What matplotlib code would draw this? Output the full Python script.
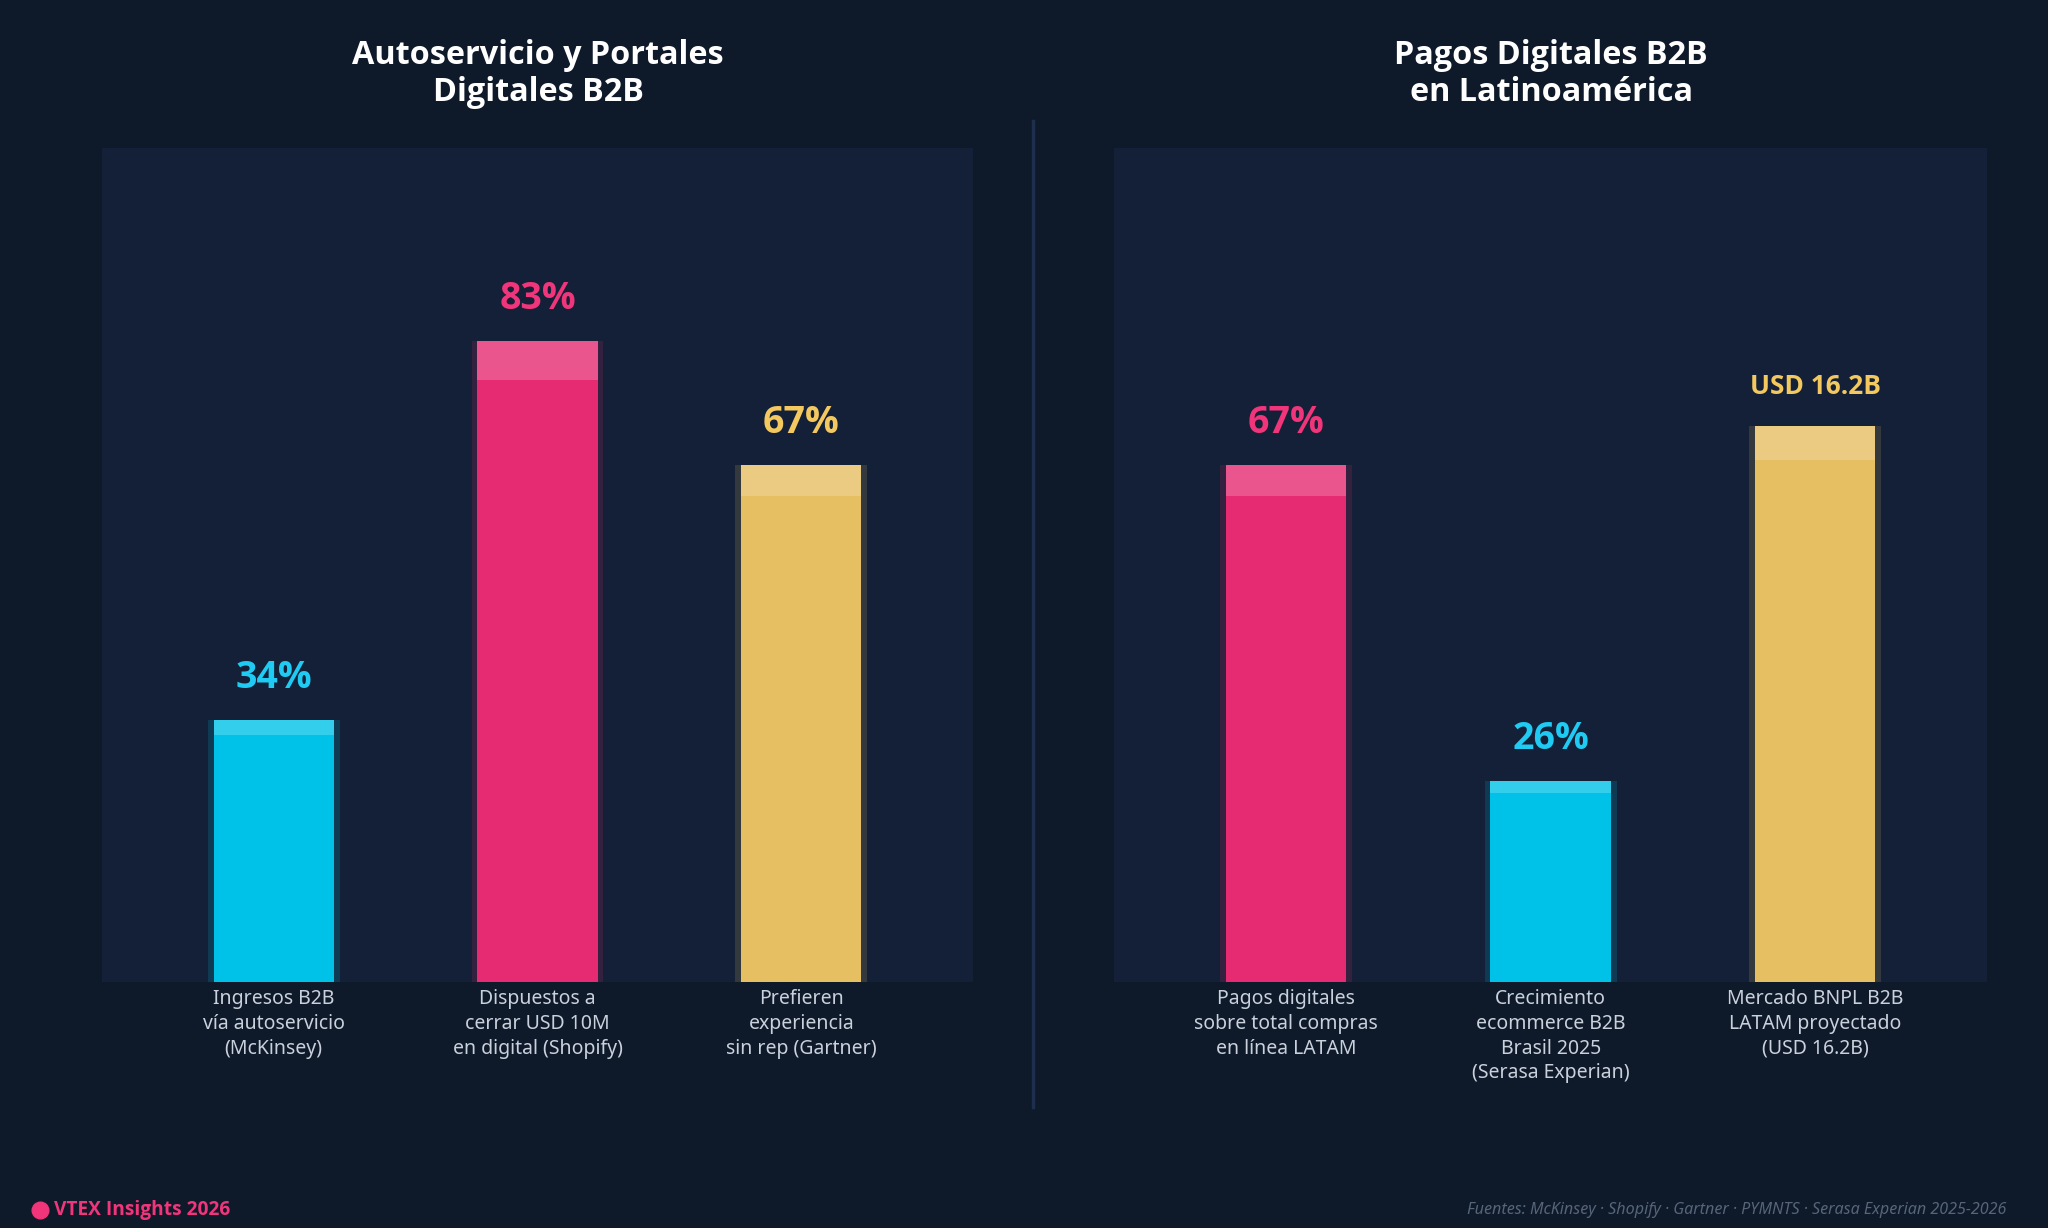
import matplotlib
matplotlib.use("Agg")
import matplotlib.pyplot as plt
from matplotlib.lines import Line2D
from matplotlib import font_manager as fm

plt.rcParams['font.family'] = ['Noto Sans', 'DejaVu Sans']

# pick a family that really has a bold face
BOLD_FAMILY = 'Noto Sans'
for fam in ['Noto Sans', 'Open Sans', 'Lato', 'DejaVu Sans']:
    try:
        p = fm.findfont(fm.FontProperties(family=fam, weight='bold'), fallback_to_default=False)
        f = fm.get_font(p)
        if 'bold' in f.style_name.lower() or 'bold' in p.lower():
            BOLD_FAMILY = fam
            break
    except Exception:
        pass

# ---- data ----
left_title = "Autoservicio y Portales\nDigitales B2B"
left_categories = ["Ingresos B2B\nvía autoservicio\n(McKinsey)",
                   "Dispuestos a\ncerrar USD 10M\nen digital (Shopify)",
                   "Prefieren\nexperiencia\nsin rep (Gartner)"]
left_values = [34, 83, 67]
left_labels = ["34%", "83%", "67%"]

right_title = "Pagos Digitales B2B\nen Latinoamérica"
right_categories = ["Pagos digitales\nsobre total compras\nen línea LATAM",
                    "Crecimiento\necommerce B2B\nBrasil 2025\n(Serasa Experian)",
                    "Mercado BNPL B2B\nLATAM proyectado\n(USD 16.2B)"]
right_values = [67, 26, 72]
right_labels = ["67%", "26%", "USD 16.2B"]

BG = "#0e1929"
PANEL = "#132037"
CYAN = "#00c2e8"
PINK = "#e62b72"
GOLD = "#e5bf62"
CYAN_T = "#1fcbf2"
PINK_T = "#f0357a"
GOLD_T = "#f3c85f"
left_colors = [CYAN, PINK, GOLD]
left_tcolors = [CYAN_T, PINK_T, GOLD_T]
right_colors = [PINK, CYAN, GOLD]
right_tcolors = [PINK_T, CYAN_T, GOLD_T]
label_sizes_left = [27, 27, 27]
label_sizes_right = [27, 27, 19]

fig = plt.figure(figsize=(20.48, 12.28), dpi=100, facecolor=BG)
BF = [BOLD_FAMILY, 'DejaVu Sans']

def panel(rect, cats, vals, labels, colors, tcolors, sizes, title, tx):
    ax = fig.add_axes(rect)
    ax.set_facecolor(PANEL)
    x = list(range(len(vals)))
    ax.bar(x, vals, width=0.5, color=colors, alpha=0.16, zorder=1)
    ax.bar(x, vals, width=0.455, color=colors, zorder=2)
    tops = [v * 0.06 for v in vals]
    bots = [v * 0.94 for v in vals]
    ax.bar(x, tops, bottom=bots, width=0.455, color="white", alpha=0.2, zorder=3)
    for xi, v, lab, c, s in zip(x, vals, labels, tcolors, sizes):
        ax.annotate(lab, (xi, v), xytext=(0, 23), textcoords="offset points",
                    ha="center", va="baseline", color=c, fontsize=s,
                    fontweight="bold", family=BF)
    ax.set_xlim(-0.65, 2.65)
    ax.set_ylim(0, 108)
    ax.set_yticks([])
    ax.set_xticks(x)
    ax.set_xticklabels(cats, color="#c9d1dc", fontsize=14, linespacing=1.32)
    ax.tick_params(axis="x", length=0, pad=5)
    for sp in ax.spines.values():
        sp.set_visible(False)
    fig.text(tx, 0.9395, title, ha="center", va="center", color="white",
             fontsize=23.3, fontweight="bold", linespacing=1.17, family=BF)
    return ax

panel([0.0498, 0.2003, 0.4253, 0.679], left_categories, left_values, left_labels,
      left_colors, left_tcolors, label_sizes_left, left_title, 0.2628)
panel([0.544, 0.2003, 0.4263, 0.679], right_categories, right_values, right_labels,
      right_colors, right_tcolors, label_sizes_right, right_title, 0.7575)

# divider
fig.add_artist(Line2D([1033 / 2048, 1033 / 2048], [1 - 121 / 1228, 1 - 1107 / 1228],
                      color="#1e2f4d", lw=2.5, transform=fig.transFigure))

# footer
fig.add_artist(Line2D([40 / 2048], [1 - 1210 / 1228], marker="o", markersize=12,
                      color=PINK_T, transform=fig.transFigure))
fig.text(54 / 2048, 1 - 1210 / 1228, "VTEX Insights 2026", color=PINK_T,
         fontsize=13.8, fontweight="bold", ha="left", va="center", family=BF)
fig.text(2006 / 2048, 1 - 1210 / 1228,
         "Fuentes: McKinsey · Shopify · Gartner · PYMNTS · Serasa Experian 2025-2026",
         color="#56657a", fontsize=11.6, style="italic", ha="right", va="center")

fig.savefig("out.png", dpi=100, facecolor=BG)
